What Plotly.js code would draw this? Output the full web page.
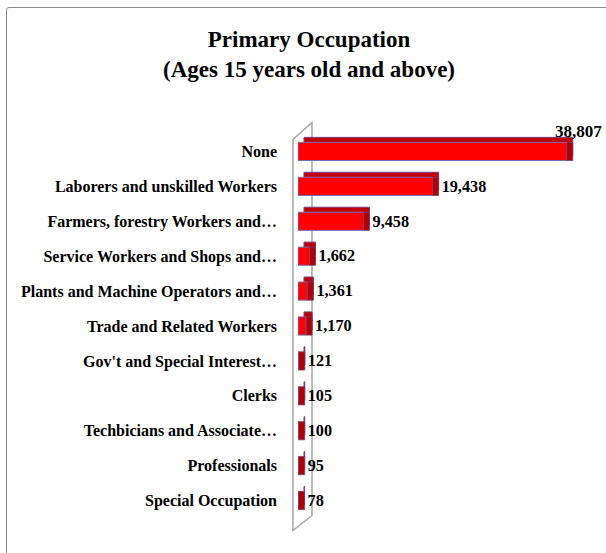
<!DOCTYPE html>
<html>
<head>
<meta charset="utf-8">
<script src="https://cdn.plot.ly/plotly-3.0.1.min.js"></script>
<style>
  html, body { margin: 0; padding: 0; background: #ffffff; overflow: hidden; }
  #frame { position: absolute; left: 6px; top: 7px; width: 700px; height: 700px; border: 1px solid #8c8c8c; border-radius: 3px; }
  #chart { position: absolute; left: 0; top: 0; width: 606px; height: 553px; }
</style>
</head>
<body>
<div id="frame"></div>
<div id="chart"></div>
<script>
const categories = [
  "None",
  "Laborers and unskilled Workers",
  "Farmers, forestry Workers and…",
  "Service Workers and Shops and…",
  "Plants and Machine Operators and…",
  "Trade and Related Workers",
  "Gov't and Special Interest…",
  "Clerks",
  "Techbicians and Associate…",
  "Professionals",
  "Special Occupation"
];
const values = [38807, 19438, 9458, 1662, 1361, 1170, 121, 105, 100, 95, 78];

const XMAX = 40000;
const plotW = 277, plotH = 385;
const n = categories.length;
const depthX = 6 / plotW * XMAX;        // horizontal depth of the 3D effect (data units)
const depthY = 5 / (plotH / n);         // vertical depth of the 3D effect (category units)

const serif = "Liberation Serif, Times New Roman, serif";
const fmt = v => v.toLocaleString('en-US');
const maxIdx = values.indexOf(Math.max(...values));
const BW = 0.52;

// back (top face) copy, drawn first, shifted up-right
const back = {
  type: 'bar', orientation: 'h',
  y: categories, x: values,
  xaxis: 'x', yaxis: 'y',
  width: BW,
  marker: { color: '#c00000', line: { color: '#7a3a7a', width: 1 } },
  hoverinfo: 'skip', showlegend: false
};
// front face
const front = {
  type: 'bar', orientation: 'h',
  y: categories, x: values,
  xaxis: 'x2', yaxis: 'y2',
  width: BW,
  marker: { color: '#ff0000', line: { color: '#7070b8', width: 1 } },
  showlegend: false
};
// right (side) face, sitting at the end of each bar; carries the value labels
const side = {
  type: 'bar', orientation: 'h',
  y: categories, x: values.map(() => depthX), base: values,
  xaxis: 'x2', yaxis: 'y2',
  width: BW,
  marker: { color: '#b00000', line: { color: '#7a3a7a', width: 0.8 } },
  text: values.map((v, i) => i === maxIdx ? '' : fmt(v)),
  textposition: 'outside',
  cliponaxis: false,
  textfont: { family: serif, size: 17, color: '#000000', weight: 'bold' },
  hoverinfo: 'skip', showlegend: false
};

const layout = {
  width: 606, height: 553,
  margin: { l: 298, r: 31, t: 134, b: 35 },
  paper_bgcolor: 'rgba(0,0,0,0)',
  plot_bgcolor: 'rgba(0,0,0,0)',
  barmode: 'overlay',
  title: {
    text: 'Primary Occupation<br>(Ages 15 years old and above)',
    font: { family: serif, size: 23, color: '#000000', weight: 'bold' },
    x: 0.51, xanchor: 'center', y: 0.915, yanchor: 'top'
  },
  xaxis: { range: [-depthX, XMAX - depthX], visible: false, fixedrange: true },
  yaxis: {
    type: 'category', categoryorder: 'array', categoryarray: categories,
    range: [n - 0.5 + depthY, -0.5 + depthY], visible: false
  },
  xaxis2: { range: [0, XMAX], visible: false, overlaying: 'x', anchor: 'y2', fixedrange: true },
  yaxis2: {
    type: 'category', categoryorder: 'array', categoryarray: categories,
    range: [n - 0.5, -0.5], overlaying: 'y', anchor: 'x2', side: 'left',
    showgrid: false, zeroline: false, showline: false, ticks: '',
    ticklabelstandoff: 20,
    tickfont: { family: serif, size: 16, color: '#000000', weight: 'bold' }
  },
  annotations: [{
    xref: 'x2', yref: 'y2', x: values[maxIdx], y: categories[maxIdx],
    text: fmt(values[maxIdx]), showarrow: false,
    xanchor: 'left', yanchor: 'bottom', xshift: -14, yshift: 8,
    font: { family: serif, size: 17, color: '#000000', weight: 'bold' }
  }],
  shapes: [{
    type: 'path', xref: 'paper', yref: 'paper', layer: 'below',
    path: 'M -0.0181 0.9857 L 0.0505 1.0299 L 0.0505 0.0065 L -0.0181 -0.0325 Z',
    line: { color: '#a6a6a6', width: 1.5 }, fillcolor: 'rgba(0,0,0,0)'
  }]
};

Plotly.newPlot('chart', [back, front, side], layout, { displayModeBar: false, staticPlot: true });
</script>
</body>
</html>
